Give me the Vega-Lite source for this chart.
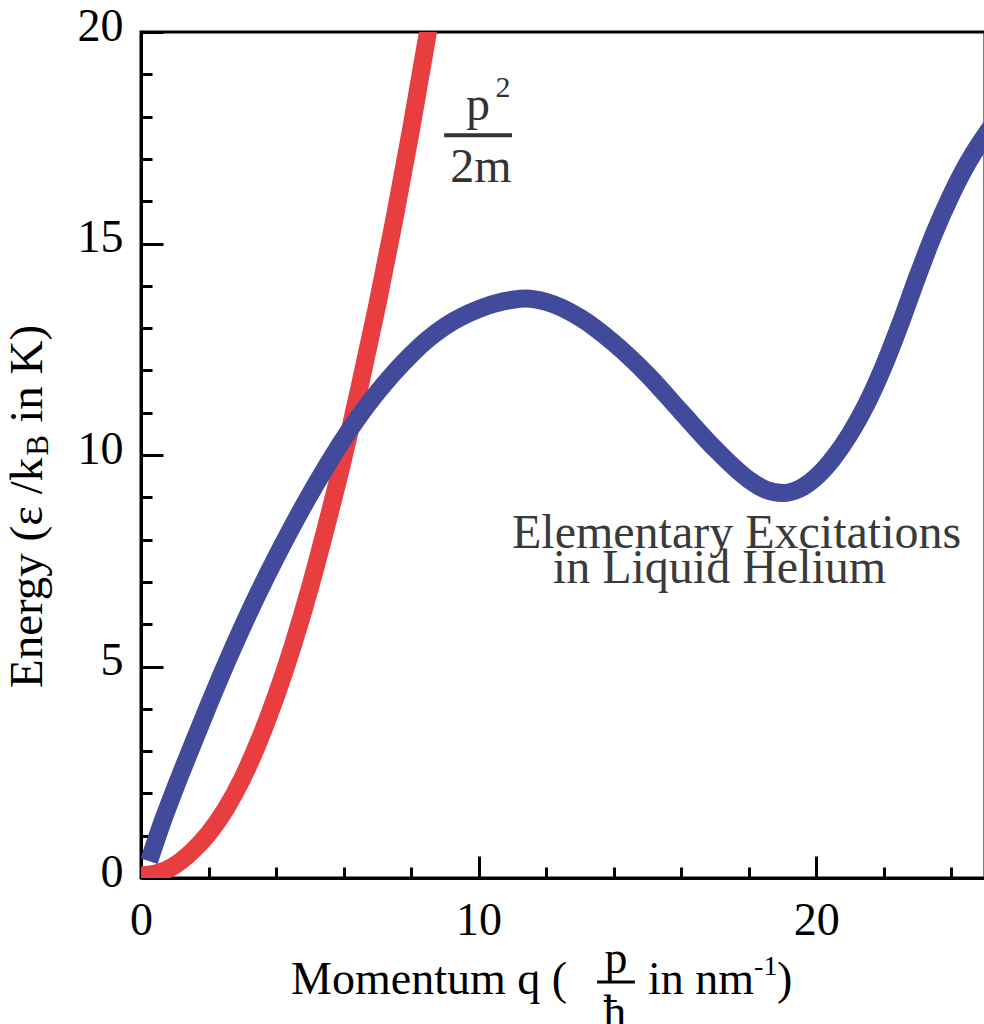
{
  "$schema": "https://vega.github.io/schema/vega-lite/v6.json",
  "width": 844,
  "height": 846,
  "autosize": {"type": "none"},
  "padding": {"left": 141, "top": 32, "right": 0, "bottom": 146},
  "background": "white",
  "config": {
    "view": {"stroke": "black", "strokeWidth": 3},
    "axis": {
      "grid": false,
      "labelFont": "Liberation Serif",
      "labelFontSize": 46,
      "labelColor": "black",
      "domainColor": "black",
      "domainWidth": 3,
      "tickColor": "black",
      "tickWidth": 3,
      "labelFlush": false,
      "labelOverlap": false,
      "labelBound": false
    }
  },
  "encoding": {
    "x": {"field": "x", "type": "quantitative", "scale": {"domain": [0, 25], "nice": false, "zero": false},
      "axis": {"orient": "bottom", "title": null, "values": [0, 2, 4, 6, 8, 10, 12, 14, 16, 18, 20, 22, 24],
        "labelExpr": "datum.value % 10 === 0 ? datum.label : ''",
        "tickSize": {"condition": {"test": "datum.value % 10 === 0", "value": -22}, "value": -11},
        "labelPadding": 42}},
    "y": {"field": "y", "type": "quantitative", "scale": {"domain": [0, 20], "nice": false, "zero": false},
      "axis": {"orient": "left", "title": null, "values": [0, 1, 2, 3, 4, 5, 6, 7, 8, 9, 10, 11, 12, 13, 14, 15, 16, 17, 18, 19, 20],
        "labelExpr": "datum.value % 5 === 0 ? datum.label : ''",
        "tickSize": {"condition": {"test": "datum.value % 5 === 0", "value": -22}, "value": -11},
        "labelPadding": 40, "labelBaseline": "alphabetic", "labelOffset": 8}}
  },
  "layer": [
    {
      "data": {"values": [
        {"x": -0.1, "y": 0.05}, {"x": 0.5, "y": 0.12}, {"x": 1.0, "y": 0.3}, {"x": 1.5, "y": 0.62},
        {"x": 2.0, "y": 1.05}, {"x": 2.5, "y": 1.62}, {"x": 3.0, "y": 2.35}, {"x": 3.5, "y": 3.25},
        {"x": 4.0, "y": 4.3}, {"x": 4.5, "y": 5.5}, {"x": 5.0, "y": 6.85}, {"x": 5.5, "y": 8.35},
        {"x": 6.0, "y": 9.95}, {"x": 6.5, "y": 11.7}, {"x": 7.0, "y": 13.55}, {"x": 7.5, "y": 15.55},
        {"x": 8.0, "y": 17.7}, {"x": 8.5, "y": 20.0}, {"x": 8.8, "y": 21.4}
      ]},
      "mark": {"type": "line", "color": "#E83E40", "strokeWidth": 18, "interpolate": "monotone", "clip": true}
    },
    {
      "data": {"values": [
        {"x": 0.24, "y": 0.4}, {"x": 0.6, "y": 1.25}, {"x": 1.0, "y": 2.1}, {"x": 1.5, "y": 3.1},
        {"x": 2.0, "y": 4.08}, {"x": 2.5, "y": 5.03}, {"x": 3.0, "y": 5.93}, {"x": 3.5, "y": 6.78},
        {"x": 4.0, "y": 7.58}, {"x": 4.5, "y": 8.34}, {"x": 5.0, "y": 9.06}, {"x": 5.5, "y": 9.74},
        {"x": 6.0, "y": 10.38}, {"x": 6.5, "y": 10.96}, {"x": 7.0, "y": 11.48}, {"x": 7.5, "y": 11.95},
        {"x": 8.0, "y": 12.37}, {"x": 8.5, "y": 12.74}, {"x": 9.0, "y": 13.04}, {"x": 10.0, "y": 13.45},
        {"x": 11.0, "y": 13.67}, {"x": 11.4, "y": 13.7}, {"x": 12.0, "y": 13.62}, {"x": 13.0, "y": 13.25},
        {"x": 14.0, "y": 12.65}, {"x": 15.0, "y": 11.9}, {"x": 16.0, "y": 11.02}, {"x": 17.0, "y": 10.15},
        {"x": 18.0, "y": 9.42}, {"x": 18.5, "y": 9.18}, {"x": 19.0, "y": 9.1}, {"x": 19.5, "y": 9.2},
        {"x": 20.0, "y": 9.48}, {"x": 20.5, "y": 9.92}, {"x": 21.0, "y": 10.5}, {"x": 21.5, "y": 11.22},
        {"x": 22.0, "y": 12.1}, {"x": 22.5, "y": 13.12}, {"x": 23.0, "y": 14.22}, {"x": 23.5, "y": 15.25},
        {"x": 24.0, "y": 16.15}, {"x": 24.5, "y": 16.92}, {"x": 25.0, "y": 17.55}, {"x": 25.3, "y": 17.88}
      ]},
      "mark": {"type": "line", "color": "#424A9C", "strokeWidth": 18, "interpolate": "monotone", "clip": true}
    },
    {
      "data": {"values": [{"t": "Momentum q (", "x": 12.62, "y": -2.74}]},
      "mark": {"type": "text", "font": "Liberation Serif", "fontSize": 46, "align": "right", "baseline": "alphabetic", "color": "black"},
      "encoding": {"text": {"field": "t"}}
    },
    {
      "data": {"values": [{"t": "p", "x": 14.07, "y": -2.25}, {"t": "ħ", "x": 14.03, "y": -3.52}]},
      "mark": {"type": "text", "font": "Liberation Serif", "fontSize": 46, "align": "center", "baseline": "alphabetic", "color": "black"},
      "encoding": {"text": {"field": "t"}}
    },
    {
      "data": {"values": [{"t": "in nm", "x": 15.02, "y": -2.74}, {"t": ")", "x": 18.84, "y": -2.74}]},
      "mark": {"type": "text", "font": "Liberation Serif", "fontSize": 46, "align": "left", "baseline": "alphabetic", "color": "black"},
      "encoding": {"text": {"field": "t"}}
    },
    {
      "data": {"values": [{"t": "-1", "x": 18.16, "y": -2.29}]},
      "mark": {"type": "text", "font": "Liberation Serif", "fontSize": 28, "align": "left", "baseline": "alphabetic", "color": "black"},
      "encoding": {"text": {"field": "t"}}
    },
    {
      "data": {"values": [{"x": 13.51, "x2": 14.63, "y": -2.46}]},
      "mark": {"type": "rule", "color": "black", "strokeWidth": 3},
      "encoding": {"x2": {"field": "x2"}}
    },
    {
      "data": {"values": [{"t": "Energy (ε /k", "x": -2.93, "y": 4.49}, {"t": "in K)", "x": -2.93, "y": 10.76}]},
      "mark": {"type": "text", "font": "Liberation Serif", "fontSize": 47, "angle": 270, "align": "left", "baseline": "alphabetic", "color": "black"},
      "encoding": {"text": {"field": "t"}}
    },
    {
      "data": {"values": [{"t": "B", "x": -2.75, "y": 9.98}]},
      "mark": {"type": "text", "font": "Liberation Serif", "fontSize": 31, "angle": 270, "align": "left", "baseline": "alphabetic", "color": "black"},
      "encoding": {"text": {"field": "t"}}
    },
    {
      "data": {"values": [{"t": "p", "x": 9.98, "y": 17.92}, {"t": "2m", "x": 10.07, "y": 16.45}]},
      "mark": {"type": "text", "font": "Liberation Serif", "fontSize": 48, "align": "center", "baseline": "alphabetic", "color": "#333333"},
      "encoding": {"text": {"field": "t"}}
    },
    {
      "data": {"values": [{"t": "2", "x": 10.72, "y": 18.46}]},
      "mark": {"type": "text", "font": "Liberation Serif", "fontSize": 30, "align": "center", "baseline": "alphabetic", "color": "#333333"},
      "encoding": {"text": {"field": "t"}}
    },
    {
      "data": {"values": [{"x": 8.98, "x2": 10.99, "y": 17.56}]},
      "mark": {"type": "rule", "color": "#333333", "strokeWidth": 4},
      "encoding": {"x2": {"field": "x2"}}
    },
    {
      "data": {"values": [{"t": "Elementary Excitations", "x": 10.99, "y": 7.8}, {"t": "in Liquid Helium", "x": 12.2, "y": 6.97}]},
      "mark": {"type": "text", "font": "Liberation Serif", "fontSize": 48, "align": "left", "baseline": "alphabetic", "color": "#3a3a3a"},
      "encoding": {"text": {"field": "t"}}
    }
  ]
}
